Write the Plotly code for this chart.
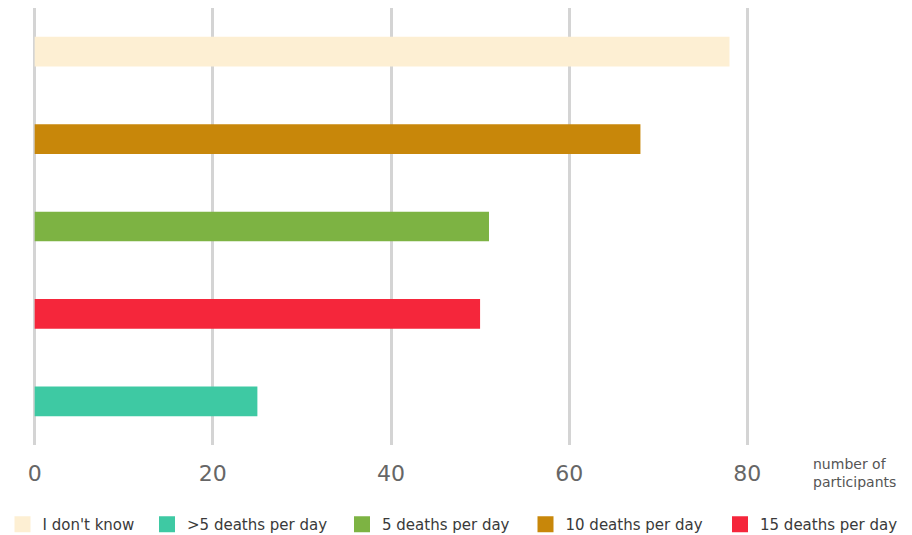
import plotly.graph_objects as go

# Data
categories = ["I don't know", ">5 deaths per day", "5 deaths per day", "10 deaths per day", "15 deaths per day"]
values = [78, 25, 51, 68, 50]
colors = ["#FDEFD3", "#3EC9A3", "#7DB343", "#C8870A", "#F5263B"]
# top-to-bottom order of bars
bar_order = ["I don't know", "10 deaths per day", "5 deaths per day", "15 deaths per day", ">5 deaths per day"]
x_ticks = [0, 20, 40, 60, 80]

FW, FH = 904, 527
L, R, T, B = 24, 162, 0, 90
W = FW - L - R
H = FH - T - B

# horizontal start (figure px) of each legend entry
legend_starts = [-5.5, 139, 334, 517.5, 712]

fig = go.Figure()
for cat, val, col in zip(categories, values, colors):
    fig.add_trace(go.Bar(
        x=[val], y=[cat], orientation="h", name=cat,
        marker=dict(color=col, line=dict(width=0)),
        width=0.34, hoverinfo="x+y", showlegend=False,
    ))

legend_layout = {}
for i, (cat, col) in enumerate(zip(categories, colors)):
    lname = "legend" if i == 0 else f"legend{i + 1}"
    fig.add_trace(go.Scatter(
        x=[None], y=[None], mode="markers", name=cat, legend=lname,
        marker=dict(symbol="square", size=19, color=col),
    ))
    legend_layout[lname] = dict(
        orientation="h", x=(legend_starts[i] - L) / W, xanchor="left",
        y=-(500 - H) / H, yanchor="top", bgcolor="rgba(0,0,0,0)",
        font=dict(size=15, color="#3A3A3A", family="DejaVu Sans, sans-serif"),
    )

fig.update_layout(
    width=FW, height=FH,
    margin=dict(l=L, r=R, t=T, b=B, autoexpand=False),
    plot_bgcolor="white", paper_bgcolor="white",
    barmode="overlay",
    font=dict(family="DejaVu Sans, sans-serif", color="#555555"),
    showlegend=True,
    xaxis=dict(
        range=[-0.3, 80.3], tickvals=x_ticks, showgrid=True,
        gridcolor="#D4D4D4", gridwidth=3, zeroline=False, showline=False,
        ticks="", ticklabelstandoff=13, automargin=False,
        tickfont=dict(size=22, color="#666666", family="DejaVu Sans, sans-serif"),
    ),
    yaxis=dict(
        categoryorder="array", categoryarray=bar_order[::-1],
        range=[-0.5, 4.5], showticklabels=False, showgrid=False,
        zeroline=False, showline=False, automargin=False,
    ),
    **legend_layout,
)

fig.add_annotation(
    xref="paper", yref="paper", x=(803 - L) / W, y=-(446 - H) / H,
    xanchor="left", yanchor="top",
    text="number of<br>participants", showarrow=False, align="left",
    font=dict(size=14, color="#555555", family="DejaVu Sans, sans-serif"),
)

fig.write_html("out.html")
